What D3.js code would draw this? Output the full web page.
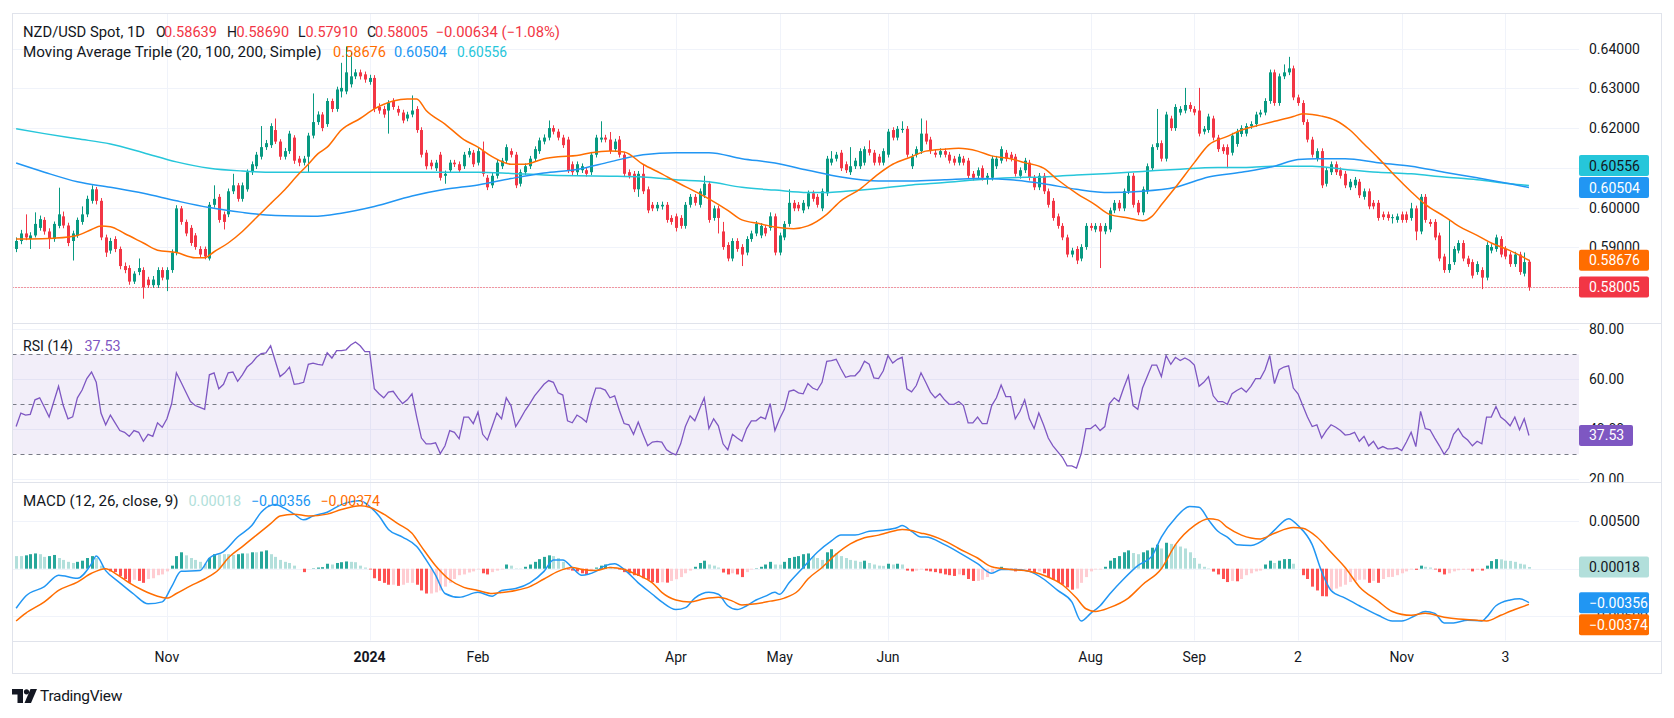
<!DOCTYPE html>
<html><head><meta charset="utf-8">
<script src="https://cdn.jsdelivr.net/npm/d3@7"></script>
<style>
html,body{margin:0;padding:0;background:#fff;}
svg{display:block;font-family:Roboto,"Noto Sans",Arial,sans-serif;}
</style></head><body>
<svg id="c" width="1674" height="718"></svg>
<script>
// ---------------- DATA ----------------
// bar index: 0 = 1 Jan 2024 (daily bars); first visible bar index:
const firstBar = -75;
const opens = [
.5896,.5916,.5935,.5921,.5930,.5949,.5969,.5940,.5921,.5954,
.5978,.5955,.5916,.5930,.5964,.5983,.6017,.6046,.6017,.5925,
.5892,.5921,.5896,.5853,.5848,.5814,.5838,.5843,.5819,.5805,
.5805,.5843,.5819,.5843,.5887,.5998,.5964,.5949,.5930,.5896,
.5896,.5872,.6007,.6027,.5983,.5983,.6041,.6056,.6022,.6046,
.6089,.6104,.6128,.6152,.6157,.6195,.6166,.6128,.6142,.6176,
.6123,.6113,.6128,.6181,.6215,.6234,.6210,.6268,.6248,.6292,
.6292,.6310,.6330,.6340,.6335,.6316,.6326,.6253,.6248,.6244,
.6268,.6248,.6239,.6224,.6234,.6248,.6195,.6138,.6113,.6099,
.6133,.6080,.6094,.6113,.6109,.6104,.6133,.6138,.6113,.6142,
.6075,.6056,.6080,.6104,.6118,.6142,.6133,.6060,.6089,.6104,
.6123,.6142,.6166,.6176,.6200,.6191,.6176,.6171,.6109,.6089,
.6094,.6094,.6089,.6133,.6171,.6176,.6171,.6147,.6171,.6133,
.6089,.6085,.6046,.6085,.6046,.6007,.5998,.6003,.6007,.5974,
.5978,.5974,.5954,.6007,.6027,.6007,.6031,.6060,.5974,.5998,
.5940,.5906,.5872,.5916,.5901,.5887,.5921,.5935,.5930,.5949,
.5949,.5978,.5887,.5925,.5959,.6012,.6007,.5993,.6003,.6036,
.6027,.5998,.6036,.6113,.6123,.6138,.6109,.6089,.6104,.6104,
.6113,.6147,.6138,.6128,.6113,.6133,.6195,.6176,.6195,.6198,
.6104,.6133,.6142,.6186,.6171,.6138,.6133,.6142,.6133,.6123,
.6113,.6123,.6118,.6085,.6080,.6099,.6075,.6075,.6104,.6118,
.6138,.6133,.6128,.6080,.6094,.6113,.6075,.6051,.6080,.6041,
.6017,.5978,.5954,.5925,.5882,.5896,.5872,.5901,.5954,.5945,
.5954,.5940,.5945,.5993,.6012,.5998,.6041,.6080,.6012,.5988,
.6041,.6099,.6152,.6162,.6123,.6224,.6200,.6239,.6244,.6258,
.6248,.6244,.6191,.6195,.6224,.6176,.6152,.6152,.6138,.6160,
.6185,.6186,.6205,.6210,.6234,.6239,.6268,.6340,.6263,.6330,
.6340,.6350,.6277,.6263,.6215,.6171,.6123,.6142,.6060,.6089,
.6109,.6094,.6085,.6051,.6056,.6065,.6027,.6041,.6012,.6012,
.5983,.5983,.5974,.5969,.5983,.5983,.5974,.5998,.5940,.6027,
.5964,.5964,.5930,.5877,.5843,.5863,.5892,.5911,.5872,.5863,
.5838,.5843,.5824,.5892,.5896,.5921,.5896,.5882,.5858,.5882,
.5834,.58639];
const highs = [
.5925,.5944,.5983,.5938,.5988,.5980,.5976,.5948,.5965,.6050,
.5990,.5962,.5942,.5975,.6003,.6030,.6056,.6052,.6024,.5932,
.5924,.5928,.5902,.5862,.5855,.5840,.5872,.5850,.5826,.5828,
.5850,.5850,.5850,.5895,.6006,.6004,.5970,.5956,.5936,.5903,
.5902,.6014,.6056,.6034,.5990,.6048,.6085,.6062,.6063,.6096,
.6116,.6140,.6205,.6170,.6212,.6224,.6172,.6150,.6193,.6182,
.6130,.6130,.6188,.6287,.6242,.6240,.6275,.6274,.6304,.6364,
.6405,.6390,.6348,.6347,.6342,.6334,.6333,.6262,.6256,.6270,
.6275,.6256,.6246,.6241,.6282,.6255,.6202,.6145,.6120,.6120,
.6140,.6093,.6120,.6120,.6116,.6140,.6150,.6145,.6150,.6166,
.6082,.6087,.6120,.6125,.6159,.6149,.6140,.6096,.6111,.6130,
.6154,.6176,.6184,.6219,.6207,.6198,.6183,.6178,.6116,.6116,
.6111,.6101,.6140,.6183,.6217,.6183,.6190,.6173,.6180,.6140,
.6096,.6092,.6092,.6109,.6053,.6014,.6014,.6015,.6014,.5981,
.5985,.5981,.6014,.6034,.6034,.6048,.6080,.6067,.6005,.6005,
.5964,.5913,.5923,.5923,.5908,.5928,.5942,.5966,.5961,.5956,
.5988,.5985,.5937,.5966,.6046,.6019,.6014,.6019,.6043,.6043,
.6034,.6048,.6130,.6142,.6140,.6145,.6116,.6152,.6125,.6149,
.6154,.6169,.6145,.6135,.6149,.6198,.6202,.6205,.6217,.6205,
.6135,.6154,.6224,.6219,.6178,.6145,.6149,.6149,.6140,.6130,
.6135,.6130,.6125,.6092,.6101,.6106,.6087,.6130,.6130,.6154,
.6145,.6140,.6135,.6101,.6125,.6120,.6082,.6087,.6087,.6048,
.6024,.5985,.5961,.5932,.5899,.5903,.5908,.5961,.5961,.5961,
.5961,.5961,.6000,.6019,.6019,.6048,.6087,.6087,.6019,.6053,
.6111,.6159,.6248,.6169,.6241,.6231,.6260,.6255,.6301,.6265,
.6255,.6301,.6205,.6236,.6231,.6183,.6159,.6159,.6188,.6198,
.6207,.6212,.6217,.6241,.6246,.6275,.6347,.6347,.6337,.6360,
.6379,.6357,.6284,.6270,.6222,.6178,.6149,.6149,.6101,.6116,
.6116,.6101,.6092,.6072,.6077,.6072,.6048,.6048,.6019,.6019,
.5990,.5990,.5983,.5985,.5990,.5990,.6012,.6005,.6034,.6034,
.5971,.5971,.5937,.5884,.5969,.5903,.5918,.5918,.5879,.5870,
.5865,.5850,.5913,.5908,.5932,.5928,.5903,.5889,.5889,.5889,
.5887,.58690];
const lows = [
.5888,.5908,.5918,.5896,.5925,.5942,.5932,.5896,.5914,.5948,
.5948,.5903,.5867,.5924,.5957,.5976,.6010,.6008,.5918,.5876,
.5884,.5888,.5845,.5835,.5806,.5808,.5830,.5771,.5798,.5798,
.5798,.5817,.5790,.5836,.5880,.5957,.5928,.5904,.5894,.5875,
.5870,.5867,.6000,.5962,.5945,.5976,.6034,.6015,.6015,.6040,
.6082,.6097,.6121,.6145,.6150,.6160,.6120,.6121,.6135,.6110,
.6104,.6106,.6089,.6174,.6208,.6192,.6203,.6240,.6241,.6277,
.6285,.6302,.6323,.6322,.6314,.6309,.6240,.6236,.6226,.6186,
.6246,.6231,.6212,.6217,.6227,.6188,.6126,.6096,.6096,.6092,
.6068,.6060,.6087,.6102,.6087,.6097,.6126,.6102,.6106,.6078,
.6044,.6049,.6073,.6097,.6111,.6126,.6049,.6053,.6082,.6097,
.6116,.6135,.6159,.6169,.6184,.6169,.6150,.6087,.6082,.6082,
.6087,.6078,.6082,.6126,.6164,.6164,.6135,.6140,.6126,.6078,
.6073,.6039,.6027,.6034,.5986,.5991,.5991,.5995,.5962,.5957,
.5940,.5947,.5947,.6000,.6005,.6000,.6024,.5962,.5967,.5935,
.5894,.5865,.5865,.5889,.5853,.5880,.5914,.5928,.5923,.5928,
.5942,.5880,.5880,.5918,.5952,.5991,.5991,.5986,.5996,.6015,
.6000,.5991,.6029,.6106,.6116,.6092,.6087,.6082,.6097,.6097,
.6106,.6131,.6106,.6106,.6106,.6126,.6169,.6169,.6188,.6126,
.6097,.6126,.6135,.6159,.6135,.6126,.6126,.6126,.6111,.6106,
.6106,.6106,.6073,.6068,.6073,.6068,.6058,.6068,.6097,.6111,
.6116,.6116,.6078,.6073,.6087,.6068,.6044,.6044,.6034,.6000,
.5967,.5947,.5918,.5875,.5875,.5858,.5865,.5894,.5942,.5938,
.5848,.5933,.5938,.5986,.5991,.5991,.6034,.6000,.5981,.5981,
.6034,.6092,.6145,.6116,.6116,.6193,.6193,.6232,.6237,.6241,
.6232,.6179,.6184,.6188,.6169,.6140,.6135,.6099,.6131,.6153,
.6178,.6179,.6198,.6203,.6227,.6232,.6261,.6256,.6256,.6323,
.6333,.6270,.6256,.6208,.6164,.6126,.6116,.6049,.6053,.6082,
.6082,.6073,.6049,.6044,.6049,.6024,.6020,.5996,.5996,.5967,
.5969,.5967,.5960,.5962,.5962,.5962,.5967,.5918,.5933,.5962,
.5952,.5918,.5865,.5836,.5836,.5856,.5885,.5865,.5851,.5822,
.5831,.5795,.5817,.5885,.5889,.5875,.5870,.5851,.5851,.5831,
.5827,.57910];
const closes = [
.5916,.5935,.5925,.5930,.5959,.5971,.5940,.5921,.5959,.5983,
.5955,.5911,.5935,.5969,.5983,.6022,.6046,.6017,.5925,.5887,
.5916,.5896,.5853,.5843,.5814,.5834,.5848,.5800,.5805,.5819,
.5843,.5824,.5843,.5887,.5998,.5964,.5935,.5911,.5901,.5882,
.5877,.6007,.6022,.5969,.5964,.6041,.6056,.6022,.6056,.6089,
.6109,.6133,.6152,.6162,.6205,.6166,.6128,.6142,.6186,.6118,
.6113,.6123,.6181,.6215,.6234,.6200,.6268,.6248,.6297,.6301,
.6340,.6330,.6340,.6330,.6322,.6326,.6248,.6244,.6234,.6263,
.6253,.6239,.6219,.6234,.6244,.6195,.6133,.6104,.6104,.6113,
.6075,.6085,.6113,.6109,.6094,.6133,.6142,.6109,.6142,.6085,
.6051,.6080,.6113,.6118,.6152,.6133,.6056,.6089,.6104,.6123,
.6147,.6169,.6176,.6200,.6191,.6176,.6157,.6094,.6089,.6109,
.6104,.6085,.6133,.6176,.6176,.6171,.6142,.6166,.6133,.6085,
.6080,.6046,.6085,.6041,.5993,.5998,.6007,.6007,.5969,.5964,
.5949,.5954,.6007,.6027,.6012,.6041,.6060,.5969,.5998,.5974,
.5901,.5872,.5916,.5896,.5882,.5921,.5935,.5959,.5954,.5935,
.5978,.5887,.5930,.5959,.6012,.5998,.5998,.6012,.6036,.6022,
.6007,.6041,.6123,.6123,.6133,.6099,.6094,.6104,.6118,.6142,
.6147,.6138,.6113,.6113,.6142,.6191,.6176,.6198,.6198,.6133,
.6128,.6147,.6186,.6166,.6142,.6133,.6142,.6133,.6118,.6113,
.6128,.6113,.6080,.6075,.6094,.6075,.6080,.6123,.6123,.6147,
.6123,.6123,.6085,.6094,.6118,.6075,.6051,.6080,.6041,.6007,
.5974,.5954,.5925,.5882,.5892,.5867,.5901,.5954,.5949,.5954,
.5940,.5954,.5993,.6012,.5998,.6041,.6080,.6007,.5988,.6046,
.6104,.6152,.6162,.6123,.6234,.6200,.6253,.6248,.6258,.6248,
.6239,.6186,.6198,.6229,.6176,.6147,.6142,.6133,.6181,.6191,
.6200,.6205,.6210,.6234,.6239,.6268,.6340,.6263,.6330,.6340,
.6350,.6277,.6263,.6215,.6171,.6133,.6142,.6056,.6094,.6109,
.6089,.6080,.6056,.6065,.6070,.6031,.6041,.6003,.6003,.5974,
.5976,.5974,.5976,.5978,.5969,.5969,.5998,.5940,.6027,.5969,
.5959,.5925,.5872,.5843,.5858,.5896,.5911,.5872,.5858,.5829,
.5858,.5824,.5906,.5901,.5925,.5882,.5877,.5858,.5882,.5838,
.5863,.58005];

// Moving averages (read at sample bars)
const sma20Bars = [-75,-72,-67,-62,-59,-57,-55,-52,-48,-45,-41,-37,-35,-33,-30,-27,-24,-21,-18,-15,-13,-11,-9,-6,-2,1,5,8,10,12,16,20,23,26,30,33,37,40,44,47,51,54,58,62,65,69,72,76,79,83,86,90,93,97,100,104,108,111,115,118,122,125,129,132,136,139,143,146,150,154,157,161,164,166,168,171,175,178,182,185,189,192,196,198,200,202,205,208,211,214,216,218,221,224,228,231,235,238,242,246];
const sma20 = [.5921,.5921,.5923,.5930,.5945,.5954,.5952,.5935,.5911,.5893,.5887,.5874,.5874,.5889,.5911,.5940,.5975,.6010,.6045,.6085,.6109,.6135,.6152,.6195,.6224,.6248,.6268,.6273,.6273,.6244,.6210,.6171,.6152,.6128,.6109,.6109,.6123,.6128,.6131,.6138,.6142,.6140,.6109,.6085,.6065,.6041,.6022,.5993,.5969,.5959,.5951,.5947,.5954,.5983,.6017,.6046,.6085,.6109,.6128,.6142,.6147,.6149,.6142,.6130,.6123,.6113,.6099,.6070,.6036,.6007,.5983,.5974,.5967,.5978,.6007,.6051,.6113,.6157,.6179,.6195,.6208,.6217,.6229,.6236,.6234,.6230,.6219,.6195,.6160,.6125,.6100,.6075,.6040,.6008,.5978,.5954,.5930,.5911,.5892,.58676];
const sma100Bars = [-75,-69,-62,-55,-48,-41,-34,-27,-20,-12,-6,1,9,16,23,30,37,44,51,58,65,72,79,86,93,100,108,115,122,129,136,143,150,157,164,171,178,185,192,197,201,207,214,221,228,235,242,246];
const sma100 = [.6112,.6089,.6065,.6051,.6036,.6017,.6000,.5988,.5980,.5978,.5986,.6003,.6029,.6046,.6057,.6073,.6087,.6096,.6115,.6133,.6138,.6138,.6123,.6112,.6094,.6077,.6067,.6067,.6070,.6073,.6070,.6060,.6046,.6038,.6041,.6051,.6077,.6089,.6104,.6121,.6123,.6123,.6113,.6104,.6089,.6075,.6060,.60504];
const sma200Bars = [-75,-69,-62,-55,-48,-41,-34,-27,-20,-10,0,10,23,30,37,44,51,58,65,72,79,86,93,97,101,108,115,122,129,136,143,150,157,164,171,180,186,192,200,207,214,221,228,235,242,246];
const sma200 = [.6198,.6186,.6173,.6160,.6138,.6115,.6099,.6092,.6089,.6089,.6089,.6089,.6089,.6086,.6082,.6080,.6079,.6077,.6070,.6065,.6051,.6044,.6038,.6038,.6041,.6048,.6057,.6063,.6070,.6075,.6077,.6082,.6086,.6091,.6096,.6101,.6101,.6104,.6104,.6096,.6089,.6085,.6077,.6070,.6060,.60556];

// RSI(14), one value per bar
const rsi = [
41.1,46.5,45.7,46,51.8,52.6,48.8,44.9,51.1,57.2,
49.5,44.2,45,52.6,55.7,60.3,62.9,58.8,46.5,41.8,
45.7,42.6,39.5,38.8,37.2,39.5,38.8,35.2,38,37.2,
42.6,40.8,44.2,50.3,62.6,58.8,54.9,51.1,49.5,48.8,
48,61.8,62.6,56.2,58,62.6,62.9,59.2,61.8,64.9,
66.5,68.8,70.3,70.6,73.4,67.2,61.1,62.6,64.9,58,
58.3,58.8,66,66.5,66,65.7,70.6,68.5,71.5,71.5,
71.8,73.7,74.9,73.4,71.1,71.1,56.2,54.2,52.6,54.9,
55.2,52.6,50.3,51.8,54.2,44.9,36.5,34.2,34.2,34.6,
30.3,33.4,39.5,38.8,36.2,44.9,44.9,42.3,46.9,38,
35.7,41.1,46.5,44.2,52.6,49.5,41.1,44.2,47.5,50.3,
53.4,55.7,58,59.5,58.8,54.6,53.7,43.4,42.6,45.7,
44.5,42.9,50.6,56.5,56.5,55.7,52.6,53.4,47.5,42.3,
41.8,38,42.9,38,33.4,34.9,35.2,34.9,31.8,30.6,
29.8,34.2,41.1,45.4,43.4,48,52.6,40.3,44.2,41.4,
34.2,31.8,38,36.5,35.2,40.3,43.4,43.4,44.9,44.2,
50.3,39.5,44.2,48,55.2,55.7,54.6,54.2,58.3,56.5,
55.7,58.8,67.2,67.5,68,64.2,60.8,61.4,61.4,63.4,
67.2,66,60.6,60.3,63.4,69.5,66.5,68,68.8,56.2,
55,57.5,62.6,58.8,54.9,52.6,54.2,51.8,50,50,
51.1,49.5,42.6,42.6,44.9,42.3,42.3,49.5,52.6,57.7,
53.1,53.1,44.2,47.2,51.8,44.2,40.3,46.5,41.8,36.5,
33.4,31.1,28.8,25.4,25.4,24.5,30.3,40.3,40.3,41.8,
39.5,41.1,50.3,52.6,51.1,56.5,61.4,49.5,48,56.5,
61.1,65.7,65.7,61.1,69.5,66,68.8,67.5,68.5,67.5,
65.7,57.2,58.8,61.1,53.4,51.1,51.1,50,54.2,55.5,
56.5,54.9,57.2,60.3,60.3,63.8,69.5,58.3,63.8,64.9,
65.4,56.5,54.2,49.5,44.9,41.1,41.8,36.5,39.5,41.8,
40.8,39.5,37.7,38,38.8,35.2,37.2,33.4,35.2,32.2,
33.1,32.2,32.2,32.6,31.5,34.9,38.8,33.1,47.2,40.3,
39.8,36.5,33.4,30,32.6,38,40.3,37.2,35.7,33.4,
35.2,34.2,44.9,44.9,49.1,44.9,43.4,41.4,44.9,39.8,
44.2,37.53];

// MACD(12,26,9) histogram, one value per bar, in units of 0.0001
const macdHist = [
13.2,13.2,14,15.2,16,15.2,12.4,13.2,14.4,11.2,
9.2,7.2,6,7.2,8.4,11.2,13.2,11.2,3.2,0,
-2.8,-3.6,-7.6,-10.8,-14.8,-11.6,-12.8,-14.8,-10.8,-10,
-6.8,-6,-2.8,3.2,13.2,17.2,14,11.2,9.2,7.2,
5.2,11.2,15.2,15.2,15.2,15.2,14.4,15.2,16,16,
17.2,17.2,18,19.2,15.2,12.4,9.2,7.2,6,3.2,
0,-3.6,0,0.4,1.2,1.6,5.2,4.4,6,6.8,
7.6,7.2,6.8,3.2,1.2,-0.8,-10,-12.8,-14.8,-16.8,
-16.8,-18,-16.8,-14.8,-14.8,-16.8,-22.8,-26,-26,-24.8,
-22.8,-18.8,-14.8,-10.8,-6.8,-6,-4,-2.8,-0.8,-4.8,
-6,-3.6,-2,-0.8,4.4,3.2,0.4,0.3,2,4.4,
7.2,10,12.4,14,13.2,11.2,7.2,-0.8,-2,-2.8,
-4.8,-6,-2.8,1.2,3.2,4.4,2,1.2,-0.8,-3.6,
-4.8,-6.8,-7.6,-10,-11.6,-14,-14.8,-14.2,-14.6,-12.8,
-11,-8.8,-4.8,-2,2,6,8.4,4.4,3.2,1.2,
-4,-6,-4.8,-6,-8.8,-3.6,-0.8,0.4,2,4.4,
7.2,4.4,4.2,7.2,11.2,12.4,13.2,15.2,16,13.2,
11.2,9.2,17.2,20.4,16.4,13.2,11.2,9.2,8.4,7.2,
8.4,6,4.4,3.2,3,5.2,4.4,5.2,4.4,-2,
-2.8,-2,-0.8,-2,-2.8,-3.6,-4.8,-6,-6.8,-7.6,
-6,-6.8,-10.8,-12.8,-12.8,-11.6,-8.8,-3.6,-0.8,2,
0,-0.8,-2.8,-2,-0.8,-2,-4,-2.8,-4.8,-8.8,
-11.6,-14,-16.8,-19.6,-22,-20.8,-14.8,-8.8,-2.8,-0.8,
-0.8,2,8.4,11.2,13.2,17.2,19.2,16.4,15.2,17.2,
19.2,22,25.2,21.2,27.2,26,25.2,23.2,21.2,17.2,
11.2,5.2,2,0.4,-3,-6,-10.8,-14,-12.8,-13.2,
-10.8,-6.8,-4.8,-2.8,-2,4.4,8.4,6,8.4,10,
10.2,5.2,0,-6.8,-10.8,-18.8,-22.8,-28.8,-29,-22.8,
-20.8,-18.8,-16.8,-14,-12.8,-11.6,-11.4,-14.8,-12.8,-14.8,
-10.8,-8.8,-8.6,-6.8,-4.8,-2.8,-0.8,-1.2,3.2,2,
1.2,-0.8,-3.6,-6,-4.8,-2.8,-1.6,-1.2,-1.1,-2.8,
-1.2,-2,3.2,8,10,9.8,8.4,8.2,7.2,5.2,
4.4,1.8];
// MACD line and signal line (units of 0.0001), read at sample bars
const macdBars = [-75,-73,-69,-66,-62,-59,-58,-56,-53,-50,-47,-44,-42,-40,-36,-34,-31,-28,-25,-23,-20,-18,-16,-14,-12,-9,-6,-2,0,2,4,7,10,12,14,16,19,23,26,28,31,34,37,39,41,43,45,48,50,52,54,57,60,62,65,67,69,72,74,76,78,80,82,84,86,87,89,92,95,98,100,103,106,109,112,113,115,117,118,122,125,129,132,134,137,140,143,146,149,151,153,155,157,160,163,166,168,171,174,176,178,180,182,184,187,190,192,195,197,200,202,204,207,210,214,217,219,222,224,226,228,230,233,236,237,239,242,244,246];
const macdLine = [-41.5,-28.8,-18.8,-6.8,-10,5.2,13.2,-2,-14.8,-26.8,-36.8,-34.8,-18.8,-2.8,-2,11.2,18,33.2,45.2,59.2,67.2,63.2,57.2,51.2,55.2,59.2,67.2,71.2,65.2,55.2,41.2,33.2,23.2,9.2,-6.8,-26,-30,-24.8,-28.8,-22.8,-20.8,-14.8,-2.8,9.2,9.2,1.2,-6.8,-2.8,3.2,5.2,-0.8,-14.8,-26.8,-34.8,-42.8,-40.8,-30.8,-24.8,-26.8,-38.8,-42.8,-38.8,-32.8,-28.8,-24.8,-26.8,-14.8,1.2,17.2,29.2,35.2,35.2,39.2,40.4,43.2,45.2,39.2,33.2,33.2,25.2,17.2,5.2,-4.8,-0.8,-0.8,-2.8,-10.8,-22.8,-34.8,-54.8,-46.8,-38.8,-26.8,-10.8,3.2,13.2,33.2,53.2,65.2,64.4,51.2,39.2,33.2,25.2,24.4,31.2,40.4,52.4,45.2,25.2,-2.8,-22.8,-30.8,-38.8,-48.8,-54.8,-54.8,-48.8,-44.8,-46.8,-56.8,-56.8,-54,-54.8,-50.8,-38.8,-32.8,-31.6,-35.6];
const signalBars = [-75,-73,-69,-66,-62,-59,-56,-54,-51,-48,-45,-43,-41,-38,-35,-32,-30,-27,-24,-21,-19,-16,-13,-9,-6,-2,0,3,6,9,11,14,17,20,23,26,28,31,34,37,40,43,45,48,51,54,57,60,62,65,68,71,74,77,79,82,85,88,91,93,96,99,102,105,108,110,113,115,117,118,122,125,129,132,136,139,143,147,150,152,154,157,161,164,168,171,175,178,180,182,185,189,192,196,198,201,204,207,210,214,217,221,224,228,231,235,237,240,243,246];
const signalLine = [-54.8,-46.8,-34.8,-22.8,-14,-4.8,0,-4.8,-14.8,-22.8,-28.8,-30.8,-26,-18,-10.8,-0.8,11.2,23.2,35.2,47.2,55.2,57.2,55.2,57.2,62,66,64.4,57.2,47.2,37.2,23.2,3.2,-11.6,-19.6,-22.8,-26,-25,-22.8,-18.8,-10.8,-2.8,1.2,-0.8,-2,1.2,-0.8,-6.8,-14.8,-24.8,-32.8,-34.8,-31.6,-30,-34,-38,-36.8,-34,-30.8,-22.8,-10.8,1.2,15.2,26,32.4,35.2,38,41.2,40,37.2,36.4,29.2,21.2,11.2,2,-0.8,-2,-6.8,-16.8,-30.8,-42,-44.8,-40.8,-30.8,-16.8,0,25.2,45.2,52.4,51.2,43.2,35.2,31.2,37.2,43.2,42.4,33.2,17.2,1.2,-18.8,-34,-44.8,-48.8,-46.8,-50.8,-52.8,-54,-54.8,-48.8,-42.8,-37.4];

// Axis ticks
const timeTickLabels = ["Nov","2024","Feb","Apr","May","Jun","Aug","Sep","2","Nov","3"];
const timeTickBars = [-43,0,23,65,87,110,153,175,197,219,241];
const priceTicks = [0.58,0.59,0.60,0.61,0.62,0.63,0.64];
const rsiTicks = [20,40,60,80];
const rsiLevels = [70,50,30];
const macdTicks = [-50,0,50];

// ---------------- DRAWING ----------------
const UP="#089981", DN="#f23645", TXT="#131722", GRID="#f0f3fa", SEP="#e0e3eb";
const C20="#ff6d00", C100="#2196f3", C200="#26c6da", CRSI="#7e57c2";
const svg=d3.select("#c");
const L=12.5, R=1579, FR=1661.5, T=13.5, PB=323, RB=482, MB=640.5, FB=673.5;

const N=closes.length;
const x=d3.scaleLinear().domain([0,241]).range([369.6,1505.4]);
const yP=d3.scaleLinear().domain([0.60,0.64]).range([207.6,48.5]);
const yR=d3.scaleLinear().domain([50,70]).range([404.3,354.3]);
const yM=d3.scaleLinear().domain([0,50]).range([568.7,521]);
const xb=k=>x(firstBar+k);

svg.append("rect").attr("width",1674).attr("height",718).attr("fill","#fff");
const defs=svg.append("defs");
function clip(id,x0,y0,x1,y1){defs.append("clipPath").attr("id",id).append("rect").attr("x",x0).attr("y",y0).attr("width",x1-x0).attr("height",y1-y0);}
clip("cP",L,T,R,PB); clip("cR",L,PB,R,RB); clip("cM",L,RB,R,MB);
clip("aP",R,T,FR,PB); clip("aR",R,PB,FR,RB); clip("aM",R,RB,FR,MB);

// grid
const g=svg.append("g");
g.selectAll(".vg").data(timeTickBars).join("line")
 .attr("x1",d=>Math.round(x(d))+0.5).attr("x2",d=>Math.round(x(d))+0.5)
 .attr("y1",T).attr("y2",MB).attr("stroke",GRID);
g.selectAll(".hp").data(priceTicks).join("line")
 .attr("x1",L).attr("x2",R).attr("y1",d=>Math.round(yP(d))+0.5).attr("y2",d=>Math.round(yP(d))+0.5)
 .attr("stroke",GRID).attr("clip-path","url(#cP)");
g.selectAll(".hr").data(rsiTicks).join("line")
 .attr("x1",L).attr("x2",R).attr("y1",d=>Math.round(yR(d))+0.5).attr("y2",d=>Math.round(yR(d))+0.5)
 .attr("stroke",GRID).attr("clip-path","url(#cR)");
g.selectAll(".hm").data(macdTicks).join("line")
 .attr("x1",L).attr("x2",R).attr("y1",d=>Math.round(yM(d))+0.5).attr("y2",d=>Math.round(yM(d))+0.5)
 .attr("stroke",GRID).attr("clip-path","url(#cM)");

// ---- price panel ----
const pg=svg.append("g").attr("clip-path","url(#cP)");
const bars=d3.range(N).map(k=>({k,o:opens[k],h:highs[k],l:lows[k],c:closes[k]}));
pg.selectAll(".wk").data(bars).join("line")
 .attr("x1",d=>Math.round(xb(d.k))+0.5).attr("x2",d=>Math.round(xb(d.k))+0.5)
 .attr("y1",d=>yP(d.h)).attr("y2",d=>yP(d.l))
 .attr("stroke",d=>d.c>=d.o?UP:DN).attr("stroke-width",1);
pg.selectAll(".bd").data(bars).join("rect")
 .attr("x",d=>Math.round(xb(d.k))-1).attr("width",3)
 .attr("y",d=>yP(Math.max(d.o,d.c)))
 .attr("height",d=>Math.max(1,Math.abs(yP(d.o)-yP(d.c))))
 .attr("fill",d=>d.c>=d.o?UP:DN);
function maLine(bs,vs,col){
  const pts=bs.map((b,j)=>[x(b),yP(vs[j])]);
  pg.append("path").attr("d",d3.line().curve(d3.curveMonotoneX)(pts))
   .attr("fill","none").attr("stroke",col).attr("stroke-width",1.5);
}
maLine(sma200Bars,sma200,C200);
maLine(sma100Bars,sma100,C100);
maLine(sma20Bars,sma20,C20);
const lastClose=closes[N-1];
pg.append("line").attr("x1",L).attr("x2",R)
 .attr("y1",Math.round(yP(lastClose))+0.5).attr("y2",Math.round(yP(lastClose))+0.5)
 .attr("stroke",DN).attr("stroke-dasharray","1,2");

// ---- RSI panel ----
const rg=svg.append("g").attr("clip-path","url(#cR)");
rg.append("rect").attr("x",L).attr("width",R-L).attr("y",yR(70)).attr("height",yR(30)-yR(70))
 .attr("fill","rgba(126,87,194,0.1)");
rg.selectAll(".lv").data(rsiLevels).join("line")
 .attr("x1",L).attr("x2",R).attr("y1",d=>Math.round(yR(d))+0.5).attr("y2",d=>Math.round(yR(d))+0.5)
 .attr("stroke","#787b86").attr("stroke-dasharray","4,4");
rg.append("path").attr("d",d3.line().x((v,k)=>xb(k)).y(v=>yR(v))(rsi))
 .attr("fill","none").attr("stroke",CRSI).attr("stroke-width",1.3);

// ---- MACD panel ----
const mg=svg.append("g").attr("clip-path","url(#cM)");
mg.selectAll(".hb").data(macdHist).join("rect")
 .attr("x",(v,k)=>Math.round(xb(k))-1).attr("width",3)
 .attr("y",v=>Math.min(yM(0),yM(v))).attr("height",v=>Math.abs(yM(v)-yM(0)))
 .attr("fill",(v,k)=>{const p=k>0?macdHist[k-1]:v;
   return v>=0?(v>p?"#26a69a":"#b2dfdb"):(v<p?"#ff5252":"#ffcdd2");});
function mLine(bs,vs,col){
  const pts=bs.map((b,j)=>[x(b),yM(vs[j])]);
  mg.append("path").attr("d",d3.line().curve(d3.curveMonotoneX)(pts))
   .attr("fill","none").attr("stroke",col).attr("stroke-width",1.5);
}
mLine(macdBars,macdLine,C100);
mLine(signalBars,signalLine,C20);

// ---- frame & separators ----
svg.append("rect").attr("x",L).attr("y",T).attr("width",FR-L).attr("height",FB-T)
 .attr("fill","none").attr("stroke",SEP);
[PB,RB,MB].forEach(yv=>svg.append("line").attr("x1",L).attr("x2",FR)
 .attr("y1",Math.round(yv)+0.5).attr("y2",Math.round(yv)+0.5).attr("stroke",SEP));

// ---- axis labels ----
const fs=14;
function axisText(sel,clipId,ticks,ys,fmt){
  sel.append("g").attr("clip-path",`url(#${clipId})`).selectAll("text").data(ticks).join("text")
   .attr("x",1589).attr("y",d=>ys(d)).attr("dominant-baseline","central")
   .attr("font-size",fs).attr("fill",TXT).text(fmt);
}
axisText(svg,"aP",priceTicks,yP,d=>d.toFixed(5));
axisText(svg,"aR",rsiTicks,yR,d=>d.toFixed(2));
axisText(svg,"aM",macdTicks,yM,d=>{const s=(Math.abs(d)*1e-4).toFixed(5);return d<0?"\u2212"+s:s;});

// time axis
svg.selectAll(".tt").data(timeTickLabels).join("text")
 .attr("x",(d,j)=>x(timeTickBars[j])).attr("y",657).attr("text-anchor","middle")
 .attr("dominant-baseline","central").attr("font-size",fs).attr("fill",TXT)
 .attr("font-weight",d=>d==="2024"?"bold":"normal").text(d=>d);

// value label boxes with simple collision handling
function boxes(items,clipId,w){
  const placed=[];
  items.forEach(it=>{
    let y=it.y;
    placed.forEach(p=>{ if(Math.abs(y-p.y)<22){ y = (it.y<p.y)? p.y-22 : p.y+22; } });
    it.py=y; placed.push({y});
  });
  const gg=svg.append("g").attr("clip-path",`url(#${clipId})`);
  items.forEach(it=>{
    gg.append("rect").attr("x",R).attr("y",it.py-10.5).attr("width",w).attr("height",21)
      .attr("rx",2).attr("fill",it.bg);
    gg.append("text").attr("x",1589).attr("y",it.py).attr("dominant-baseline","central")
      .attr("font-size",fs).attr("fill",it.fg).text(it.t);
  });
}
const fmtP=v=>v.toFixed(5);
const fmtM=v=>{const s=(Math.abs(v)*1e-4).toFixed(5);return v<0?"\u2212"+s:s;};
boxes([
 {y:yP(lastClose),t:fmtP(lastClose),bg:DN,fg:"#fff"},
 {y:yP(sma20[sma20.length-1]),t:fmtP(sma20[sma20.length-1]),bg:C20,fg:"#fff"},
 {y:yP(sma100[sma100.length-1]),t:fmtP(sma100[sma100.length-1]),bg:C100,fg:"#fff"},
 {y:yP(sma200[sma200.length-1]),t:fmtP(sma200[sma200.length-1]),bg:C200,fg:TXT}
],"aP",70);
boxes([{y:yR(rsi[N-1]),t:rsi[N-1].toFixed(2),bg:CRSI,fg:"#fff"}],"aR",54);
boxes([
 {y:yM(macdHist[N-1]),t:fmtM(macdHist[N-1]),bg:"#b2dfdb",fg:TXT},
 {y:yM(macdLine[macdLine.length-1]),t:fmtM(macdLine[macdLine.length-1]),bg:C100,fg:"#fff"},
 {y:yM(signalLine[signalLine.length-1]),t:fmtM(signalLine[signalLine.length-1]),bg:C20,fg:"#fff"}
],"aM",70);

// ---- legends ----  parts: [x, text, colour, optional width]
function legend(y,parts){
  parts.forEach(p=>{
    const t=svg.append("text").attr("x",p[0]).attr("y",y).attr("dominant-baseline","central")
      .attr("font-size",fs).attr("fill",p[2]).text(p[1]);
    if(p[3]) t.attr("textLength",p[3]).attr("lengthAdjust","spacingAndGlyphs");
  });
}
const o0=opens[N-1],h0=highs[N-1],l0=lows[N-1],c0=closes[N-1];
legend(32,[[23,"NZD/USD Spot, 1D",TXT,122],[156,"O",TXT],[164,fmtP(o0),DN,53],[227,"H",TXT],[236.5,fmtP(h0),DN,52.5],
 [298,"L",TXT],[305.5,fmtP(l0),DN,52.3],[367,"C",TXT],[375,fmtP(c0),DN,53],
 [435.5,"\u22120.00634 (\u22121.08%)",DN,124.5]]);
legend(52,[[23,"Moving Average Triple (20, 100, 200, Simple)",TXT,298.5],[333,fmtP(sma20[sma20.length-1]),C20,53],
 [394,fmtP(sma100[sma100.length-1]),C100,53],[457,fmtP(sma200[sma200.length-1]),C200,50]]);
legend(346,[[23,"RSI (14)",TXT,50],[84.5,rsi[N-1].toFixed(2),CRSI,36]]);
legend(501,[[23,"MACD (12, 26, close, 9)",TXT,155.6],[188.5,fmtM(macdHist[N-1]),"#b2dfdb",52.5],
 [251,fmtM(macdLine[macdLine.length-1]),C100,59.7],[320.5,fmtM(signalLine[signalLine.length-1]),C20,59.5]]);

// ---- TradingView logo ----
const lg=svg.append("g").attr("fill",TXT);
lg.append("path").attr("d","M12,689 H23 V703 H17.5 V694.5 H12 Z");
lg.append("circle").attr("cx",26.5).attr("cy",691.8).attr("r",2.6);
lg.append("path").attr("d","M30.5,689 H37 L31,703 H24.5 Z");
svg.append("text").attr("x",40).attr("y",696).attr("dominant-baseline","central")
 .attr("font-size",15.5).attr("fill",TXT).attr("letter-spacing","-0.3").text("TradingView");
</script>
</body></html>
